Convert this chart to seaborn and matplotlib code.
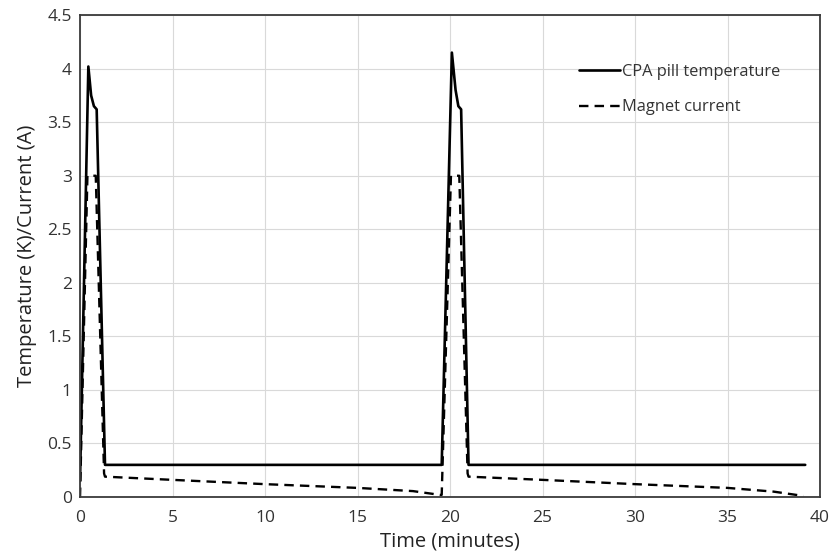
"""
plot.py

CPA pill temperature and magnet current over two recycle cycles
"""

import matplotlib
matplotlib.use("Agg")
import matplotlib.pyplot as plt
import seaborn as sns
import pandas as pd

# CPA pill temperature (K)
temp_time = [0.0, 0.45, 0.6, 0.75, 0.9, 1.35, 19.55, 20.1, 20.3, 20.45, 20.6, 21.0, 39.2]
temp_vals = [0.15, 4.02, 3.75, 3.65, 3.62, 0.3, 0.3, 4.15, 3.8, 3.65, 3.62, 0.3, 0.3]

# magnet current (A)
curr_time = [0.0, 0.4, 0.85, 1.3, 1.35, 5.0, 10.0, 15.0, 18.0, 19.45, 19.55, 20.05, 20.5, 20.95, 21.0,
             25.0, 30.0, 35.0, 37.5, 39.1]
curr_vals = [0.0, 3.0, 3.0, 0.22, 0.19, 0.16, 0.12, 0.085, 0.055, 0.02, 0.02, 3.0, 3.0, 0.22, 0.19,
             0.16, 0.12, 0.085, 0.05, 0.01]

x_ticks = [0, 5, 10, 15, 20, 25, 30, 35, 40]
y_ticks = [0, 0.5, 1, 1.5, 2, 2.5, 3, 3.5, 4, 4.5]

temp_df = pd.DataFrame({"time": temp_time, "value": temp_vals})
curr_df = pd.DataFrame({"time": curr_time, "value": curr_vals})

sns.set_style("white")
plt.rcParams["font.family"] = ["Open Sans", "DejaVu Sans"]

fig = plt.figure(figsize=(8.31, 5.6), dpi=100)
ax = fig.add_axes([0.0963, 0.1125, 0.8905, 0.8605])

sns.lineplot(data=temp_df, x="time", y="value", ax=ax, color="black",
             linewidth=1.9, label="CPA pill temperature", sort=False)
sns.lineplot(data=curr_df, x="time", y="value", ax=ax, color="black",
             linewidth=1.7, linestyle=(0, (4, 2.6)), label="Magnet current", sort=False)

ax.set_xlim(0, 40)
ax.set_ylim(0, 4.5)
ax.set_xticks(x_ticks)
ax.set_yticks(y_ticks)
ax.set_xticklabels([str(t) for t in x_ticks])
ax.set_yticklabels([f"{t:g}" for t in y_ticks])
ax.grid(True, color="#d9d9d9", linewidth=0.8)
ax.set_axisbelow(True)

for side in ["top", "right", "left", "bottom"]:
    ax.spines[side].set_visible(True)
    ax.spines[side].set_color("#3a3a3a")
    ax.spines[side].set_linewidth(1.3)

ax.tick_params(axis="both", length=0, labelsize=12.5, colors="#333333", pad=6)
ax.tick_params(axis="x", pad=9)
ax.set_xlabel("Time (minutes)", fontsize=14.5, color="#222222", labelpad=4)
ax.set_ylabel("Temperature (K)/Current (A)", fontsize=14.5, color="#222222", labelpad=7)

ax.legend(loc="upper right", bbox_to_anchor=(0.966, 0.93), frameon=False, fontsize=11.8,
          handlelength=2.5, handletextpad=0.1, labelspacing=1.2, labelcolor="#333333")

fig.savefig("out.png", dpi=100, facecolor="white")
